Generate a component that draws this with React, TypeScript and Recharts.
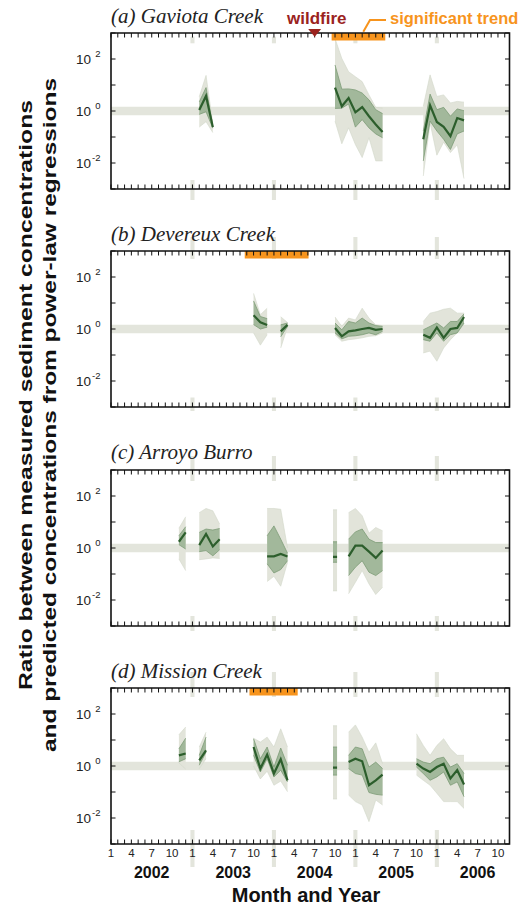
import { ComposedChart, Area, Line, XAxis, YAxis, ReferenceArea, ReferenceDot, ReferenceLine } from 'recharts';

const W = 523;
const PLOT_L = 111;
const PLOT_R = 509.5;
const PLOT_H = 156;
const M_TOP = 33;
const X_MAX = 58.7;
const X_AXIS_H = 20;
const Y_AXIS_W = 40;
const SANS = '"Liberation Sans", Arial, Helvetica, sans-serif';
const SERIF = '"Liberation Serif", "Times New Roman", serif';

// month index counted from Jan 2002 = 0; values are log10 of the ratio, null = break
const gaviotaMonths = [13, 14, 15, null, 33, 34, 35, 36, 37, 38, 39, 40, null, 46, 47, 48, 49, 50, 51, 52];
const gaviotaMed = [0.04, 0.58, -0.62, null, 0.9, 0.18, 0.5, -0.05, 0.15, -0.2, -0.52, -0.81, null, -1.09, 0.22, -0.42, -0.61, -0.97, -0.27, -0.36];
const gaviotaInnerHi = [0.35, 0.9, -0.57, null, 1.77, 0.84, 0.85, 0.81, 0.69, 0.43, 0.05, -0.1, null, -0.77, 0.65, 0.05, 0.14, -0.2, 0.08, 0.01];
const gaviotaInnerLo = [-0.13, -0.03, -0.66, null, 0.1, 0.11, 0.27, -0.62, -0.33, -0.65, -0.88, -1.03, null, -1.92, -0.39, -0.77, -1.09, -1.48, -0.88, -0.77];
const gaviotaOuterHi = [0.55, 1.37, -0.5, null, 2.79, 2.02, 1.51, 1.32, 1.13, 0.62, 0.14, 0.11, null, 0.18, 1.39, 0.56, 0.62, 0.31, 0.37, 0.34];
const gaviotaOuterLo = [-0.62, -0.41, -0.83, null, -0.39, -1.26, -0.65, -1.29, -1.79, -1.03, -1.92, -1.92, null, -2.5, -0.45, -1.7, -1.2, -1.6, -1.3, -2.6];

const devereuxMonths = [21, 22, 23, null, 25, 26, null, 33, 34, 35, 36, 37, 38, 39, 40, null, 46, 47, 48, 49, 50, 51, 52];
const devereuxMed = [0.53, 0.26, 0.15, null, -0.09, 0.16, null, 0.04, -0.28, -0.09, -0.05, 0.0, 0.04, -0.03, 0.0, null, -0.22, -0.34, 0.06, -0.34, 0.0, 0.04, 0.46];
const devereuxInnerHi = [1.08, 0.48, 0.4, null, 0.16, 0.23, null, 0.23, -0.03, 0.29, 0.23, 0.42, 0.23, 0.13, 0.1, null, -0.03, 0.1, 0.23, 0.04, 0.29, 0.29, 0.58];
const devereuxInnerLo = [0.17, 0.0, 0.07, null, -0.3, 0.1, null, -0.15, -0.38, -0.28, -0.26, -0.22, -0.15, -0.22, -0.09, null, -0.41, -0.47, -0.15, -0.47, -0.22, -0.15, 0.23];
const devereuxOuterHi = [1.37, 0.55, 0.8, null, 0.47, 0.25, null, 0.46, 0.1, 0.42, 0.35, 0.8, 0.42, 0.16, 0.13, null, 0.29, 0.61, 0.67, 0.76, 0.8, 0.61, 0.61];
const devereuxOuterLo = [-0.15, -0.62, -0.22, null, -0.73, 0.08, null, -0.22, -0.47, -0.41, -0.38, -0.34, -0.28, -0.26, -0.15, null, -0.92, -0.85, -1.24, -0.73, -0.41, -0.15, 0.2];

const arroyoMonths = [10, 11, null, 13, 14, 15, 16, null, 23, 24, 25, 26, null, 32.7, 33.3, null, 35, 36, 37, 38, 39, 40];
const arroyoMed = [0.24, 0.6, null, 0.11, 0.54, 0.06, 0.34, null, -0.32, -0.32, -0.23, -0.33, null, -0.34, -0.34, null, -0.32, 0.09, 0.09, -0.14, -0.38, -0.1];
const arroyoInnerHi = [0.47, 0.82, null, 0.6, 0.73, 0.69, 0.75, null, 0.47, 0.85, 0.34, -0.2, null, 0.24, 0.24, null, 0.34, 0.62, 0.73, 0.34, 0.21, 0.21];
const arroyoInnerLo = [0.13, -0.04, null, -0.14, -0.1, -0.3, -0.07, null, -0.61, -0.96, -0.83, -0.49, null, -0.55, -0.55, null, -1.06, -0.74, -0.49, -0.93, -1.06, -0.87];
const arroyoOuterHi = [0.76, 1.2, null, 1.36, 1.52, 1.43, 0.92, null, 1.52, 1.52, 1.49, 0.0, null, 1.47, 1.47, null, 1.36, 1.52, 1.24, 0.57, 0.79, 0.66];
const arroyoOuterLo = [-0.42, -0.87, null, -0.45, -0.42, -0.38, -0.4, null, -1.29, -1.09, -1.47, -0.55, null, -1.65, -1.65, null, -1.76, -1.32, -0.87, -1.38, -1.79, -1.51];

const missionMonths = [10, 11, null, 13, 14, null, 21, 22, 23, 24, 25, 26, null, 32.7, 33.3, null, 35, 36, 37, 38, 39, 40, null, 45, 46, 47, 48, 49, 50, 51, 52];
const missionMed = [0.41, 0.48, null, 0.22, 0.6, null, 0.73, -0.1, 0.44, -0.29, 0.26, -0.55, null, -0.06, -0.06, null, 0.15, 0.28, 0.18, -0.74, -0.55, -0.33, null, 0.09, -0.1, -0.23, -0.04, 0.09, -0.48, -0.16, -0.71];
const missionInnerHi = [0.66, 1.07, null, 0.41, 1.11, null, 1.05, 0.28, 0.73, -0.04, 0.69, 0.03, null, 0.73, 0.73, null, 0.41, 0.73, 0.66, -0.04, 0.15, -0.1, null, 0.28, 0.15, 0.09, 0.28, 0.34, -0.04, 0.09, -0.29];
const missionInnerLo = [0.16, 0.28, null, 0.03, 0.53, null, 0.41, -0.23, 0.28, -0.42, -0.16, -0.61, null, -0.35, -0.35, null, -0.1, -0.29, -0.35, -1.02, -1.09, -1.12, null, -0.04, -0.29, -0.55, -0.42, -0.23, -0.74, -0.61, -1.18];
const missionOuterHi = [1.2, 1.5, null, 0.73, 1.3, null, 1.07, 0.92, 1.11, 0.73, 1.43, 0.73, null, 1.55, 1.55, null, 1.3, 1.58, 1.11, 0.53, 0.89, 0.09, null, 1.24, 0.79, 0.41, 0.79, 1.05, 0.66, 0.41, 0.41];
const missionOuterLo = [0.12, -0.12, null, -0.1, 0.28, null, 0.0, -0.5, -0.2, -0.74, -0.58, -0.99, null, -1.27, -1.27, null, -1.12, -1.37, -1.5, -2.14, -1.31, -1.5, null, -0.35, -0.55, -0.74, -1.05, -1.37, -1.37, -1.37, -1.63];

const gaviotaTrend = [32.5, 40.4];
const devereuxTrend = [19.7, 29.1];
const missionTrend = [20.4, 27.5];
const wildfireMonth = 30;

const yearStarts = [12, 24, 36, 48];
const yearLabels = ['2002', '2003', '2004', '2005', '2006'];
const monthLabels = ['1', '4', '7', '10'];
const monthTicks = Array.from({ length: 59 }, (_, i) => i);
const decadeTicks = [1e-3, 1e-2, 1e-1, 1, 10, 100, 1000];
const decadeLabels = ['', '-2', '', '0', '', '2', ''];

const BAND = '#e3e5dc';
const OUTER = '#e2e4da';
const INNER = '#a2b89b';
const MED = '#2c5e2c';
const ORANGE = '#f7941d';
const FIRE = '#9b231e';

function buildRows(months, med, innerLo, innerHi, outerLo, outerHi) {
  return months.map((m, i) =>
    m === null
      ? { month: months[i - 1] + 0.5, med: null, inner: null, outer: null }
      : {
          month: m,
          med: 10 ** med[i],
          inner: [10 ** innerLo[i], 10 ** innerHi[i]],
          outer: [10 ** outerLo[i], 10 ** outerHi[i]],
        }
  );
}

// pixel offset from the plot top -> y value (log axis, 6 decades)
const yAtPx = (px) => 10 ** (3 - (px * 6) / PLOT_H);

const MonthTick = (props) => {
  const { x, payload, labels } = props;
  const m = payload.value;
  const bot = M_TOP + PLOT_H;
  if (!labels) return <g />;
  return (
    <g>
      {m % 3 === 0 && (
        <text x={x} y={bot + 13} textAnchor="middle" fontSize={11.5} fontFamily={SANS} fill="#222">
          {monthLabels[(m % 12) / 3]}
        </text>
      )}
      {m % 12 === 6 && (
        <text x={x} y={bot + 34} textAnchor="middle" fontSize={16} fontWeight="bold" fontFamily={SANS} fill="#111">
          {yearLabels[Math.floor(m / 12)]}
        </text>
      )}
    </g>
  );
};

const DecadeTick = (props) => {
  const { y, payload } = props;
  const label = decadeLabels[decadeTicks.indexOf(payload.value)];
  return (
    <g>
      <line x1={PLOT_L} x2={PLOT_L + 4.5} y1={y} y2={y} stroke="#111" strokeWidth={1} />
      <line x1={PLOT_R - 4.5} x2={PLOT_R} y1={y} y2={y} stroke="#111" strokeWidth={1} />
      {label && (
        <g fontFamily={SANS} fill="#222">
          <text x={91} y={y + 5} textAnchor="end" fontSize={13.5}>10</text>
          <text x={100.5} y={y - 2} textAnchor="end" fontSize={9.5}>{label}</text>
        </g>
      )}
    </g>
  );
};

const Tri = (props) => {
  const { cx, cy } = props;
  return <polygon points={`${cx - 6.5},${cy - 4} ${cx + 6.5},${cy - 4} ${cx},${cy + 3.8}`} fill={FIRE} />;
};

function Panel({ top, height, rows, trend, segs, showLabels, wildfire }) {
  return (
    <div style={{ position: 'absolute', left: 0, top, width: W, height }}>
      <ComposedChart
        width={W}
        height={height}
        data={rows}
        margin={{
          top: M_TOP,
          left: PLOT_L - Y_AXIS_W,
          right: W - PLOT_R,
          bottom: height - M_TOP - PLOT_H - X_AXIS_H,
        }}
      >
        <XAxis
          dataKey="month"
          type="number"
          domain={[0, X_MAX]}
          allowDataOverflow
          ticks={monthTicks}
          interval={0}
          tick={<MonthTick labels={showLabels} />}
          axisLine={false}
          tickLine={false}
          height={X_AXIS_H}
        />
        <YAxis
          scale="log"
          type="number"
          domain={[1e-3, 1e3]}
          allowDataOverflow
          ticks={decadeTicks}
          interval={0}
          tick={<DecadeTick />}
          axisLine={false}
          tickLine={false}
          width={Y_AXIS_W}
        />
        <ReferenceArea x1={0} x2={X_MAX} y1={10 ** -0.16} y2={10 ** 0.16} fill={BAND} fillOpacity={1} stroke="none" ifOverflow="visible" />
        {yearStarts.map((m) => (
          <ReferenceArea key={'t' + m} x1={m - 0.3} x2={m + 0.3} y1={yAtPx(segs[0])} y2={yAtPx(segs[1])} fill={BAND} fillOpacity={1} stroke="none" ifOverflow="visible" />
        ))}
        {yearStarts.map((m) => (
          <ReferenceArea key={'b' + m} x1={m - 0.3} x2={m + 0.3} y1={yAtPx(segs[2])} y2={yAtPx(segs[3])} fill={BAND} fillOpacity={1} stroke="none" ifOverflow="visible" />
        ))}
        <Area dataKey="outer" fill={OUTER} fillOpacity={1} stroke="#d2d6c9" strokeWidth={0.6} connectNulls={false} dot={false} activeDot={false} isAnimationActive={false} />
        <Area dataKey="inner" fill={INNER} fillOpacity={1} stroke="#7e9c77" strokeWidth={0.8} connectNulls={false} dot={false} activeDot={false} isAnimationActive={false} />
        <Line dataKey="med" stroke={MED} strokeWidth={2.2} dot={false} activeDot={false} connectNulls={false} isAnimationActive={false} />
        {trend && (
          <ReferenceArea x1={trend[0]} x2={trend[1]} y1={1000} y2={yAtPx(7.5)} fill={ORANGE} fillOpacity={1} stroke="none" ifOverflow="visible" />
        )}
        {monthTicks.map((m) => (
          <ReferenceLine key={'mt' + m} segment={[{ x: m, y: 1000 }, { x: m, y: yAtPx(4.5) }]} stroke="#111" strokeWidth={1} ifOverflow="visible" />
        ))}
        {monthTicks.map((m) => (
          <ReferenceLine key={'mb' + m} segment={[{ x: m, y: 1e-3 }, { x: m, y: yAtPx(PLOT_H - 4.5) }]} stroke="#111" strokeWidth={1} ifOverflow="visible" />
        ))}
        <ReferenceArea x1={0} x2={X_MAX} y1={1e-3} y2={1e3} fill="none" stroke="#111" strokeWidth={1.6} ifOverflow="visible" />
        {wildfire && <ReferenceDot x={wildfireMonth} y={1000} r={5} shape={Tri} ifOverflow="visible" />}
      </ComposedChart>
    </div>
  );
}

const panels = [
  { key: 'a', title: '(a) Gaviota Creek', boxTop: 33, rows: buildRows(gaviotaMonths, gaviotaMed, gaviotaInnerLo, gaviotaInnerHi, gaviotaOuterLo, gaviotaOuterHi), trend: gaviotaTrend, segs: [3.7, 10.3, 147, 167], wildfire: true },
  { key: 'b', title: '(b) Devereux Creek', boxTop: 251, rows: buildRows(devereuxMonths, devereuxMed, devereuxInnerLo, devereuxInnerHi, devereuxOuterLo, devereuxOuterHi), trend: devereuxTrend, segs: [-14, 8, 146.5, 160] },
  { key: 'c', title: '(c) Arroyo Burro', boxTop: 469.5, rows: buildRows(arroyoMonths, arroyoMed, arroyoInnerLo, arroyoInnerHi, arroyoOuterLo, arroyoOuterHi), trend: null, segs: [-14, 11, 146, 161] },
  { key: 'd', title: '(d) Mission Creek', boxTop: 688, rows: buildRows(missionMonths, missionMed, missionInnerLo, missionInnerHi, missionOuterLo, missionOuterHi), trend: missionTrend, segs: [-16, 9, 142, 179], labels: true },
];

export default function App() {
  return (
    <div style={{ position: 'absolute', left: 0, top: 0, width: W, height: 908, background: '#fff', overflow: 'hidden' }}>
      {panels.map((p) => (
        <Panel
          key={p.key}
          top={p.boxTop - M_TOP}
          height={p.labels ? 908 - (p.boxTop - M_TOP) : M_TOP + PLOT_H + 30}
          rows={p.rows}
          trend={p.trend}
          segs={p.segs}
          showLabels={!!p.labels}
          wildfire={!!p.wildfire}
        />
      ))}
      <svg width={W} height={908} style={{ position: 'absolute', left: 0, top: 0, pointerEvents: 'none' }}>
        {panels.map((p) => (
          <text key={p.key} x={111} y={p.boxTop - 10.5} fontFamily={SERIF} fontStyle="italic" fontSize={21} fill="#222">
            {p.title}
          </text>
        ))}
        <text x={287} y={23.5} fontFamily={SANS} fontWeight="bold" fontSize={17} fill={FIRE}>wildfire</text>
        <text x={390} y={23.5} fontFamily={SANS} fontWeight="bold" fontSize={16.5} fill={ORANGE}>significant trend</text>
        <polyline points="363.3,31.7 370,20 386,20" fill="none" stroke={ORANGE} strokeWidth={2} />
        <g fontFamily={SANS} fontWeight="bold" fontSize={19} fill="#111" textAnchor="middle">
          <text transform="translate(32,395) rotate(-90)" textLength={590} lengthAdjust="spacingAndGlyphs">
            Ratio between measured sediment concentrations
          </text>
          <text transform="translate(56,415) rotate(-90)" textLength={674} lengthAdjust="spacingAndGlyphs">
            and predicted concentrations from power-law regressions
          </text>
          <text x={306} y={902} fontSize={20}>Month and Year</text>
        </g>
      </svg>
    </div>
  );
}
